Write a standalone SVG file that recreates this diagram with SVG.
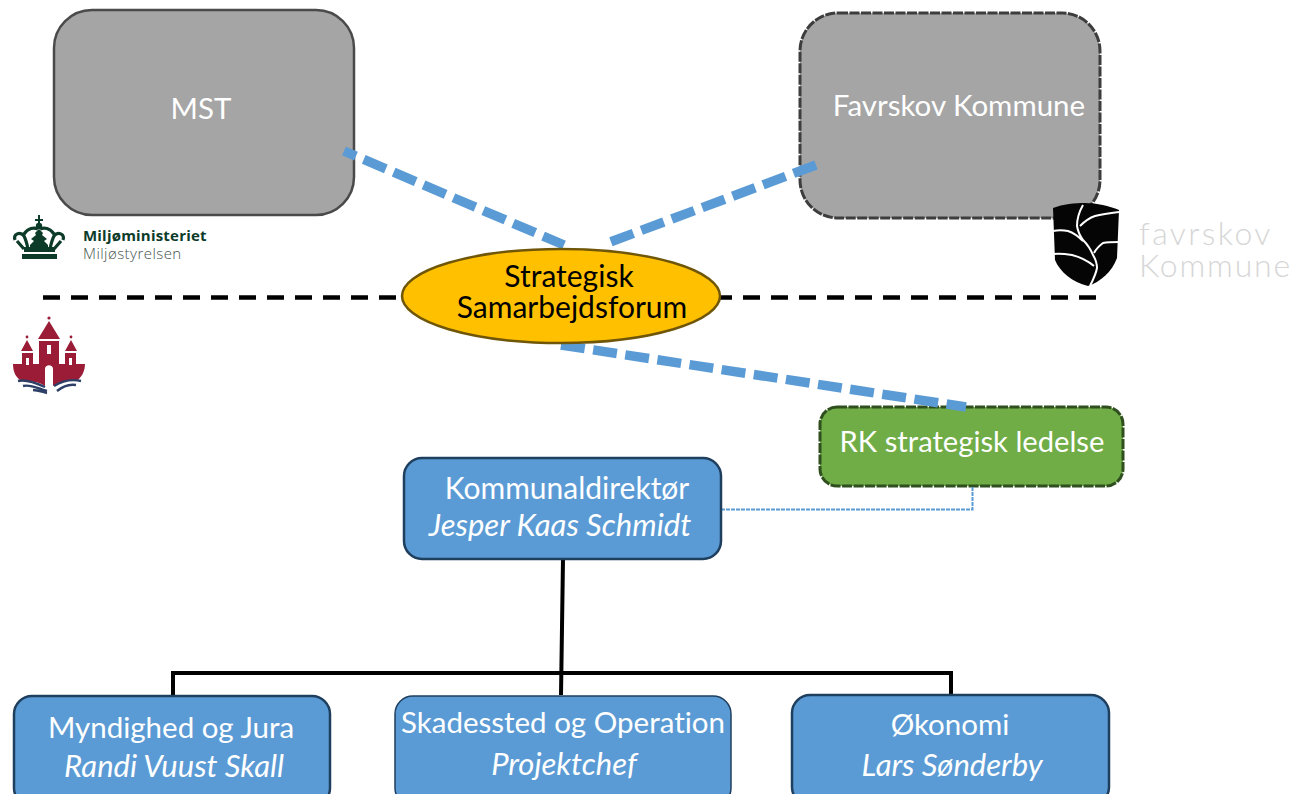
<svg xmlns="http://www.w3.org/2000/svg" width="1295" height="794" viewBox="0 0 1295 794">
<style>
text{font-family:Lato,"Open Sans","Liberation Sans",sans-serif;fill:#fff;font-size:29.5px;text-anchor:middle;font-variant-ligatures:none}
.i{font-style:italic;font-size:31px}
.w30{font-size:30px}
.gray{fill:#a5a5a5}
.blue{fill:#5b9bd5;stroke:#1f3f5f;stroke-width:2.5}
.bd{stroke:#5b9bd5;stroke-width:9.5;stroke-dasharray:24 8.5;fill:none}
.k{stroke:#000;stroke-width:4;fill:none}
.dk{fill:#0d3b2a}
.dks{stroke:#0d3b2a;stroke-width:3.2;fill:none}
.rd{fill:#9a1c36}
.wv{stroke:#2d3f66;stroke-width:2.4;fill:none}
.vein{stroke:#fff;stroke-width:2;fill:none}
.pale{fill:#d6d6d6;font-size:32px;font-weight:300;text-anchor:start}
</style>
<g id="mst"><rect x="54" y="10" width="300" height="205" rx="38" class="gray" stroke="#4a4a4a" stroke-width="2.5"/><text x="201" y="119">MST</text></g>
<g id="favrskov"><rect x="800" y="13" width="300" height="205" rx="38" class="gray" stroke="#3d3d3d" stroke-width="3" stroke-dasharray="10 1.5"/><text x="959" y="116">Favrskov Kommune</text></g>
<g id="rk"><rect x="820" y="407" width="303" height="79" rx="17" fill="#70ad47" stroke="#2f4f1f" stroke-width="3" stroke-dasharray="10 1.5"/><text x="972" y="452" style="font-size:29.2px">RK strategisk ledelse</text></g>
<g id="connectors">
<path d="M43 297.5H1098" stroke="#000" stroke-width="4.5" stroke-dasharray="17 11" fill="none"/>
<path class="bd" d="M344 151L564 245" stroke-dashoffset="11"/>
<path class="bd" d="M816 165L605 244"/>
<path class="bd" d="M561 345L966 407"/>
<path d="M721 509.5H972.5V487" stroke="#5b9bd5" stroke-width="2" stroke-dasharray="4 1" fill="none"/>
<path class="k" d="M563 559L561 695M173 695V673H951V695"/>
</g>
<g id="forum"><ellipse cx="561" cy="296" rx="159" ry="47" fill="#ffc000" stroke="#6f5608" stroke-width="2.5"/><text class="w30" style="fill:#000"><tspan x="569" y="287">Strategisk</tspan><tspan x="572" y="318">Samarbejdsforum</tspan></text></g>
<g id="direktor"><rect x="404" y="458" width="317" height="101" rx="18" class="blue"/><text x="567" y="499" class="w30">Kommunaldirektør</text><text x="560" y="536" class="i">Jesper Kaas Schmidt</text></g>
<g id="myndighed"><rect x="14" y="696" width="316" height="110" rx="18" class="blue"/><text x="171" y="738">Myndighed og Jura</text><text x="174" y="777" class="i">Randi Vuust Skall</text></g>
<g id="skadessted"><rect x="395" y="696" width="336" height="110" rx="18" class="blue" style="stroke-width:1.5"/><text x="563" y="733">Skadessted og Operation</text><text x="564" y="775" class="i">Projektchef</text></g>
<g id="okonomi"><rect x="792" y="695" width="317" height="110" rx="18" class="blue"/><text x="950" y="735">Økonomi</text><text x="952" y="776" class="i">Lars Sønderby</text></g>
<g id="logo-mst">
<path class="dk" d="M22 254h35v5H22zM24 247h31v5H24zM38 215h2v4h3v2h-3v2h-2v-2h-3v-2h3z"/>
<circle class="dk" cx="39" cy="226" r="3.2"/>
<path class="dk" d="M39 229l4 4-1 2 5 4-3 2 4 4v3H30v-3l4-4-3-2 5-4-1-2z"/>
<path class="dks" d="M15 240C13 234 20 231 24 236C26 240 27 244 28 249M63 240C65 234 58 231 54 236C52 240 51 244 50 249M24 234C28 228 34 227 38 229M54 234C50 228 44 227 40 229M17 241L24 249M61 241L54 249"/>
<text style="fill:#0d3b2a;font-size:15px;text-anchor:start;font-family:'Open Sans',sans-serif"><tspan x="83" y="241" font-weight="700" letter-spacing=".2">Miljøministeriet</tspan><tspan x="83" y="259" font-weight="300" fill="#44544c" style="fill:#44544c" letter-spacing=".45">Miljøstyrelsen</tspan></text>
</g>
<g id="logo-rk">
<circle class="rd" cx="49" cy="318" r="1.6"/><circle class="rd" cx="27" cy="337" r="1.4"/><circle class="rd" cx="71" cy="337" r="1.4"/>
<path class="rd" d="M49 321L60 339H38zM39 341H59V365H39zM27 340L33 351H21zM22 353H33V366H22zM71 340L77 351H65zM65 353H76V366H65z"/>
<path class="rd" d="M13 364H39V365H45C45 361 53 361 53 365H59V364H85C85 372 81 377 78 380C68 381 58 382 53 386V369C53 364 45 364 45 369V386C40 382 30 381 20 380C16 377 13 372 13 364z"/>
<path d="M47 345h4v9h-4zM26 358h3v7h-3zM69 358h3v7h-3z" fill="#fff"/>
<path class="wv" d="M18 381C25 379 34 382 45 387M23 386C30 384 37 388 47 391M33 390C38 390 42 392 47 393M54 386C62 381 72 379 81 381M57 391C63 386 70 384 76 385"/>
</g>
<g id="logo-favrskov">
<path d="M1053 208C1063 204 1075 203 1085 203C1097 203 1109 206 1119 210L1117 258C1112 272 1100 282 1088 286C1072 282 1060 272 1055 260z" fill="#050505"/>
<path class="vein" d="M1083 205C1079 212 1077 219 1077 226C1078 232 1080 236 1083 240C1088 245 1091 250 1093 255C1096 260 1097 264 1097 268C1096 274 1093 280 1090 286M1080 226C1084 222 1089 218 1095 216C1103 214 1111 213 1119 212M1053 231C1058 230 1063 230 1068 231C1074 233 1079 237 1083 241M1053 254C1060 253 1066 254 1072 255C1080 257 1088 261 1094 266M1094 253C1096 249 1099 246 1103 243C1108 242 1113 242 1119 242"/>
<text class="pale"><tspan x="1139" y="245" letter-spacing="2.4">favrskov</tspan><tspan x="1139" y="277" letter-spacing="1.8">Kommune</tspan></text>
</g>
</svg>
